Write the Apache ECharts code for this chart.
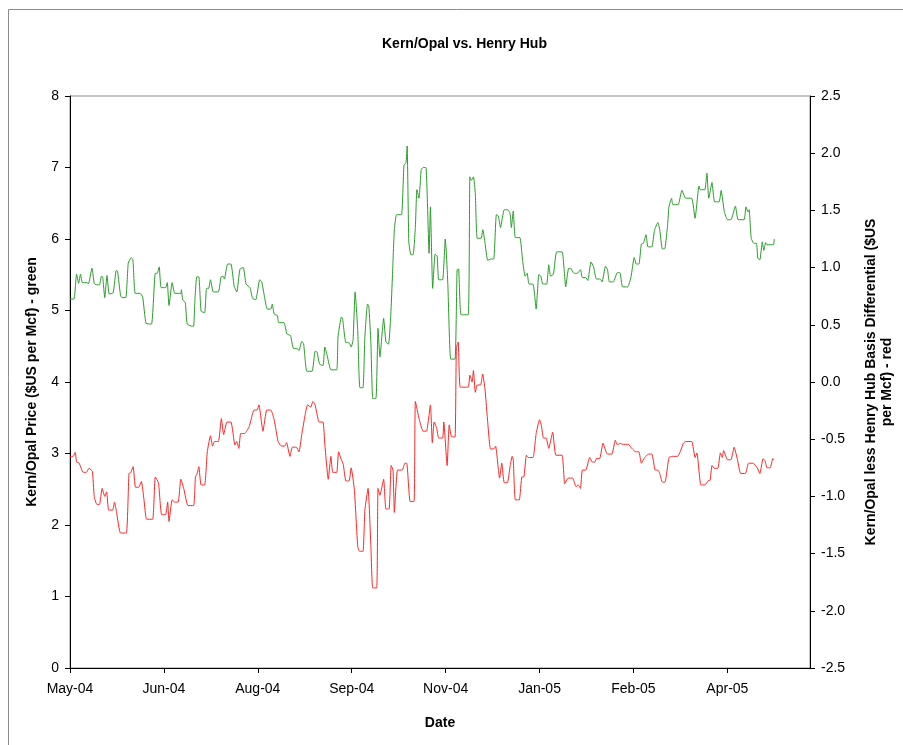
<!DOCTYPE html>
<html>
<head>
<meta charset="utf-8">
<script src="https://cdn.jsdelivr.net/npm/echarts@6/dist/echarts.min.js"></script>
<style>
html,body{margin:0;padding:0;background:#fff;}
#chart{width:903px;height:745px;}
</style>
</head>
<body>
<div id="chart"></div>
<script>
// Day offsets from the axis start date (1 May 2004)
var startDate = [2004, 4, 1]; // year, month index, day
var xTickIntervalDays = 50;
var xMaxDays = 394;
var monthNames = ['Jan','Feb','Mar','Apr','May','Jun','Jul','Aug','Sep','Oct','Nov','Dec'];

// Kern/Opal price ($US per Mcf) — [day offset, value]
var kernOpalPrice = [[0,5.16],[2.1,5.16],[3.5,5.51],[4.6,5.38],[5.6,5.51],[6.6,5.39],[9.1,5.39],[9.8,5.37],[11.7,5.59],[12.9,5.38],[13.8,5.36],[15.7,5.36],[16.7,5.48],[17.4,5.47],[18.5,5.18],[19.7,5.49],[20.9,5.23],[23.0,5.25],[24.6,5.56],[25.3,5.55],[26.9,5.21],[27.6,5.18],[29.7,5.18],[31.0,5.66],[32.6,5.74],[33.5,5.71],[34.7,5.24],[37.3,5.24],[38.7,5.19],[40.5,4.82],[43.4,4.81],[45.4,5.52],[46.4,5.52],[47.5,5.61],[48.5,5.32],[50.9,5.32],[51.8,5.39],[52.7,5.07],[54.4,5.39],[55.8,5.24],[59.0,5.24],[59.3,5.29],[60.0,5.15],[61.4,5.11],[62.4,4.81],[64.9,4.78],[65.8,4.78],[66.6,5.19],[67.5,5.47],[68.6,5.47],[69.8,4.99],[71.7,4.97],[72.7,5.31],[73.8,5.31],[74.8,5.43],[76.3,5.26],[79.0,5.26],[80.4,5.47],[81.5,5.48],[82.2,5.44],[83.9,5.65],[85.7,5.65],[87.4,5.34],[88.8,5.26],[90.5,5.58],[92.3,5.60],[93.7,5.37],[95.8,5.32],[97.2,5.17],[98.9,5.15],[101.0,5.43],[102.1,5.40],[103.5,5.20],[105.0,5.02],[106.9,5.02],[107.7,5.09],[108.7,4.95],[110.4,4.93],[111.1,4.83],[113.9,4.83],[115.5,4.67],[117.4,4.65],[119.0,4.47],[120.9,4.47],[121.9,4.44],[123.4,4.57],[124.4,4.53],[126.1,4.15],[128.9,4.15],[130.5,4.43],[131.5,4.42],[132.9,4.25],[134.7,4.23],[135.7,4.49],[137.1,4.35],[138.9,4.17],[142.0,4.17],[142.7,4.63],[144.5,4.91],[145.1,4.89],[146.9,4.55],[148.6,4.55],[149.7,4.49],[150.7,4.58],[151.8,5.26],[153.2,4.72],[153.9,4.10],[154.4,3.92],[156.0,3.92],[157.0,4.63],[158.4,5.09],[159.1,5.06],[160.2,4.55],[161.2,3.77],[162.9,3.77],[164.0,4.75],[165.0,4.35],[167.0,4.89],[168.2,4.56],[169.6,4.53],[170.8,4.94],[171.7,5.50],[172.7,6.13],[173.9,6.34],[176.5,6.34],[177.8,7.03],[178.9,7.07],[179.5,7.30],[180.4,5.96],[181.5,5.78],[182.7,5.78],[183.9,6.18],[184.7,6.69],[185.8,6.57],[187.0,6.97],[188.0,7.00],[189.5,7.00],[191.2,5.80],[191.9,6.45],[193.1,5.31],[194.4,5.79],[195.5,5.76],[196.3,5.43],[198.4,5.43],[199.8,6.00],[200.4,5.80],[201.2,5.35],[202.7,4.32],[205.0,4.32],[206.1,5.57],[206.9,5.58],[208.2,4.94],[212.0,4.94],[212.9,6.87],[213.7,6.82],[214.8,6.87],[215.8,6.63],[216.8,6.01],[218.9,6.01],[219.8,6.13],[221.0,5.94],[222.4,5.70],[223.9,5.72],[225.6,5.72],[227.0,6.34],[228.1,6.32],[229.2,6.16],[231.2,6.41],[232.9,6.41],[234.3,6.36],[235.0,6.16],[236.0,6.39],[237.1,6.02],[239.5,6.02],[240.9,5.72],[242.3,5.48],[243.4,5.52],[244.4,5.37],[246.5,5.37],[248.2,5.02],[249.6,5.50],[250.7,5.48],[251.7,5.37],[253.8,5.37],[254.9,5.64],[255.9,5.48],[257.4,5.51],[259.1,5.82],[262.0,5.82],[263.1,5.57],[263.9,5.33],[265.5,5.59],[266.6,5.59],[268.3,5.52],[270.1,5.52],[271.8,5.57],[272.8,5.46],[274.6,5.46],[275.7,5.42],[277.4,5.68],[278.8,5.61],[280.2,5.44],[282.3,5.44],[283.3,5.40],[285.1,5.62],[286.2,5.57],[287.2,5.40],[289.3,5.40],[291.4,5.53],[292.8,5.53],[294.2,5.33],[296.9,5.33],[298.7,5.47],[300.4,5.74],[301.5,5.65],[302.9,5.65],[304.2,5.93],[305.3,5.94],[306.7,6.06],[307.7,5.89],[309.8,5.89],[311.2,6.12],[313.0,6.23],[314.0,6.13],[315.4,5.86],[316.8,5.87],[318.2,6.20],[318.9,6.45],[320.3,6.57],[321.0,6.48],[323.8,6.48],[325.8,6.68],[327.8,6.57],[331.0,6.57],[332.8,6.29],[334.9,6.74],[335.6,6.69],[338.0,6.69],[339.1,6.92],[340.1,6.57],[341.8,6.79],[343.2,6.52],[345.6,6.52],[346.7,6.68],[348.4,6.38],[350.1,6.27],[351.9,6.27],[354.3,6.46],[355.7,6.27],[358.9,6.27],[359.9,6.45],[361.0,6.38],[361.6,6.41],[362.7,6.01],[364.1,5.94],[365.5,5.94],[366.2,5.73],[367.3,5.71],[368.6,5.96],[369.4,5.84],[370.4,5.95],[371.1,5.92],[374.6,5.92],[374.9,6.00]];

// Kern/Opal less Henry Hub basis differential ($US per Mcf) — [day offset, value]
var basisDifferential = [[0,-0.65],[1.7,-0.65],[2.8,-0.615],[3.5,-0.70],[4.9,-0.71],[7.0,-0.79],[8.7,-0.79],[10.1,-0.755],[11.9,-0.78],[12.9,-1.00],[14.3,-1.07],[15.7,-1.07],[17.1,-0.93],[18.5,-1.00],[19.5,-0.96],[20.6,-1.12],[22.7,-1.12],[23.7,-1.05],[24.8,-1.14],[26.9,-1.32],[30.0,-1.32],[31.4,-0.80],[32.4,-0.79],[33.6,-0.74],[34.9,-0.92],[36.6,-0.92],[38.0,-0.87],[39.4,-1.03],[40.8,-1.20],[44.0,-1.20],[45.4,-0.83],[47.1,-0.88],[48.8,-1.16],[50.9,-1.16],[52.0,-1.05],[52.7,-1.22],[54.4,-1.03],[55.8,-1.05],[57.6,-1.05],[59.0,-0.85],[60.7,-0.94],[62.8,-1.08],[65.8,-1.08],[66.8,-0.83],[67.7,-0.80],[68.6,-0.74],[69.8,-0.90],[71.7,-0.90],[73.1,-0.61],[74.8,-0.47],[75.9,-0.56],[76.9,-0.52],[79.0,-0.52],[80.6,-0.32],[81.8,-0.46],[83.6,-0.35],[85.7,-0.35],[87.8,-0.55],[88.8,-0.52],[89.9,-0.58],[90.9,-0.45],[93.0,-0.45],[95.4,-0.39],[98.0,-0.245],[99.6,-0.245],[100.6,-0.20],[102.7,-0.43],[104.8,-0.245],[106.9,-0.245],[108.7,-0.33],[110.8,-0.52],[112.5,-0.56],[114.3,-0.56],[115.3,-0.53],[117.1,-0.65],[118.4,-0.57],[120.5,-0.57],[121.9,-0.61],[123.4,-0.46],[125.1,-0.295],[126.5,-0.20],[128.2,-0.22],[129.3,-0.17],[130.3,-0.19],[131.4,-0.27],[132.6,-0.35],[134.7,-0.35],[135.7,-0.55],[137.5,-0.85],[138.9,-0.65],[139.9,-0.79],[142.0,-0.79],[143.0,-0.61],[144.5,-0.68],[145.5,-0.72],[146.9,-0.865],[148.6,-0.865],[149.7,-0.75],[151.4,-0.94],[153.2,-1.44],[154.2,-1.48],[156.0,-1.48],[157.0,-1.12],[158.7,-0.93],[160.2,-1.44],[161.2,-1.80],[163.3,-1.80],[164.0,-0.93],[165.0,-0.99],[167.0,-0.85],[168.2,-1.11],[169.9,-1.11],[171.0,-0.73],[172.0,-0.77],[172.7,-1.14],[174.4,-0.77],[176.9,-0.77],[178.3,-0.71],[179.3,-0.71],[181.1,-1.045],[183.2,-1.045],[183.9,-0.17],[186.0,-0.33],[188.0,-0.43],[189.8,-0.43],[191.9,-0.20],[192.9,-0.53],[193.9,-0.35],[195.2,-0.40],[196.3,-0.49],[198.4,-0.49],[199.0,-0.35],[200.8,-0.73],[201.9,-0.375],[203.2,-0.48],[205.0,-0.48],[205.7,0.295],[206.7,0.35],[207.8,-0.045],[212.0,-0.045],[212.9,0.06],[214.1,0.00],[214.8,0.10],[215.8,-0.09],[216.8,-0.026],[218.6,-0.026],[219.7,0.07],[221.0,-0.07],[222.1,-0.29],[223.9,-0.585],[225.6,-0.585],[226.6,-0.56],[228.1,-0.77],[228.7,-0.84],[229.9,-0.71],[231.2,-0.88],[232.9,-0.88],[234.3,-0.74],[235.4,-0.65],[236.0,-0.68],[237.1,-1.03],[239.2,-1.03],[240.6,-0.83],[241.6,-0.83],[243.0,-0.64],[244.1,-0.66],[246.5,-0.66],[248.2,-0.45],[250.0,-0.33],[251.0,-0.38],[252.1,-0.49],[253.5,-0.49],[254.9,-0.58],[257.0,-0.44],[258.7,-0.64],[262.0,-0.64],[263.4,-0.89],[265.2,-0.84],[267.6,-0.84],[269.4,-0.915],[270.6,-0.90],[271.8,-0.93],[272.8,-0.77],[274.6,-0.77],[276.7,-0.66],[278.1,-0.70],[279.5,-0.70],[280.2,-0.67],[282.0,-0.67],[283.8,-0.535],[286.1,-0.63],[288.5,-0.63],[290.3,-0.51],[291.5,-0.55],[292.8,-0.535],[294.2,-0.545],[297.3,-0.545],[299.1,-0.58],[301.2,-0.61],[302.9,-0.61],[304.2,-0.71],[306.0,-0.66],[308.1,-0.63],[309.8,-0.63],[311.6,-0.77],[313.0,-0.77],[314.0,-0.80],[315.4,-0.875],[316.8,-0.875],[318.9,-0.66],[320.7,-0.65],[323.5,-0.65],[324.9,-0.61],[326.6,-0.535],[327.8,-0.52],[331.0,-0.52],[332.8,-0.66],[333.8,-0.62],[335.9,-0.90],[338.0,-0.90],[340.1,-0.86],[340.8,-0.86],[341.8,-0.73],[343.2,-0.755],[344.9,-0.755],[346.3,-0.62],[347.3,-0.66],[348.0,-0.60],[350.1,-0.68],[351.9,-0.68],[353.6,-0.57],[355.4,-0.68],[357.1,-0.80],[359.6,-0.80],[361.3,-0.71],[363.8,-0.71],[365.9,-0.75],[367.3,-0.80],[369.0,-0.67],[370.1,-0.69],[371.1,-0.75],[372.8,-0.75],[374.2,-0.67],[374.9,-0.68]];

var leftAxis = {min: 0, max: 8, interval: 1};
var rightAxis = {min: -2.5, max: 2.5, interval: 0.5};

function dayLabel(d) {
  var dt = new Date(Date.UTC(startDate[0], startDate[1], startDate[2] + Math.round(d)));
  var yy = String(dt.getUTCFullYear() % 100);
  if (yy.length < 2) yy = '0' + yy;
  return monthNames[dt.getUTCMonth()] + '-' + yy;
}

var font = 'Liberation Sans, Arial, sans-serif';
var chart = echarts.init(document.getElementById('chart'), null, {renderer: 'canvas'});
chart.setOption({
  animation: false,
  backgroundColor: '#ffffff',
  textStyle: {fontFamily: font},
  graphic: [{
    type: 'rect', silent: true, z: -10,
    shape: {x: 8.5, y: 9.5, width: 1000, height: 1000},
    style: {fill: 'none', stroke: '#8c8c8c', lineWidth: 1}
  }],
  title: {
    text: 'Kern/Opal vs. Henry Hub',
    left: 377, top: 32,
    textStyle: {fontFamily: font, fontSize: 14, fontWeight: 'bold', color: '#000'}
  },
  grid: {left: 70, right: 80, top: 96, bottom: 77, show: true, borderColor: '#8c8c8c', borderWidth: 1, backgroundColor: 'transparent'},
  xAxis: {
    type: 'value', min: 0, max: xMaxDays, interval: xTickIntervalDays,
    name: 'Date', nameLocation: 'middle', nameGap: 48,
    nameTextStyle: {fontFamily: font, fontSize: 14, fontWeight: 'bold', color: '#000'},
    axisLine: {show: true, lineStyle: {color: '#000', width: 1}},
    axisTick: {show: true, inside: false, length: 5, lineStyle: {color: '#000'}},
    axisLabel: {show: true, showMaxLabel: false, margin: 14, fontFamily: font, fontSize: 14, color: '#000',
      formatter: function (v) { return dayLabel(v); }},
    splitLine: {show: false}
  },
  yAxis: [{
    type: 'value', position: 'left', min: leftAxis.min, max: leftAxis.max, interval: leftAxis.interval,
    name: 'Kern/Opal Price ($US per Mcf) - green', nameLocation: 'middle', nameRotate: 90, nameGap: 31,
    nameTextStyle: {fontFamily: font, fontSize: 14, fontWeight: 'bold', color: '#000'},
    axisLine: {show: true, lineStyle: {color: '#000', width: 1}},
    axisTick: {show: true, length: 5, lineStyle: {color: '#000'}},
    axisLabel: {margin: 11, fontFamily: font, fontSize: 14, color: '#000'},
    splitLine: {show: false}
  }, {
    type: 'value', position: 'right', min: rightAxis.min, max: rightAxis.max, interval: rightAxis.interval,
    name: 'Kern/Opal less Henry Hub Basis Differential ($US\nper Mcf) - red', nameLocation: 'middle', nameRotate: 90, nameGap: 53,
    nameTextStyle: {fontFamily: font, fontSize: 14, fontWeight: 'bold', color: '#000', lineHeight: 16, align: 'center'},
    axisLine: {show: true, lineStyle: {color: '#000', width: 1}},
    axisTick: {show: true, length: 5, lineStyle: {color: '#000'}},
    axisLabel: {margin: 11, fontFamily: font, fontSize: 14, color: '#000',
      formatter: function (v) { return v.toFixed(1); }},
    splitLine: {show: false}
  }],
  series: [{
    name: 'Kern/Opal Price', type: 'line', yAxisIndex: 0, data: kernOpalPrice,
    showSymbol: false, symbol: 'none', smooth: 0.15,
    lineStyle: {color: '#2a9e2a', width: 1}
  }, {
    name: 'Basis Differential', type: 'line', yAxisIndex: 1, data: basisDifferential,
    showSymbol: false, symbol: 'none', smooth: 0.15,
    lineStyle: {color: '#ff2626', width: 1}
  }]
});
</script>
</body>
</html>
